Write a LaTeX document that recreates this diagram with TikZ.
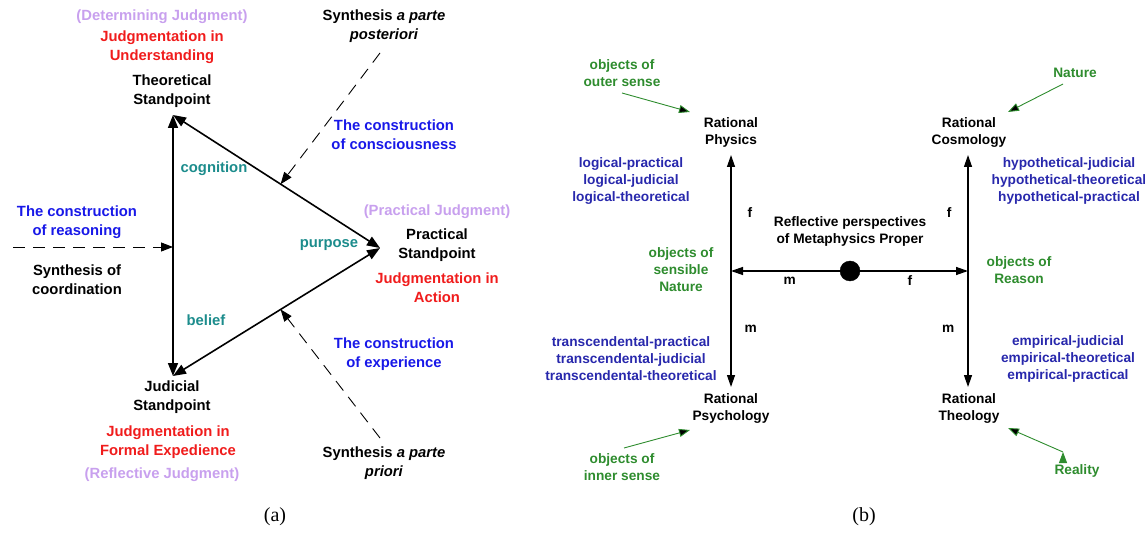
\documentclass[tikz,border=0pt]{standalone}
\usepackage{fontspec}
\setmainfont{Liberation Sans}
\newfontfamily\capfont{Liberation Serif}
\usepackage{tikz}
\usetikzlibrary{arrows.meta,calc}
\definecolor{judgeviolet}{RGB}{200,160,238}
\definecolor{mentred}{RGB}{240,28,28}
\definecolor{constblue}{RGB}{24,24,232}
\definecolor{relteal}{RGB}{28,140,140}
\definecolor{objgreen}{RGB}{46,140,46}
\definecolor{formblue}{RGB}{40,40,172}
\tikzset{
    stand/.style={
    align=center,inner sep=0pt,font=\fontsize{14.8}{19}\selectfont\bfseries
    },
    judge/.style={
    stand,text=judgeviolet
    },
    ment/.style={
    stand,text=mentred
    },
    constr/.style={
    stand,text=constblue
    },
    relation/.style={
    stand,text=relteal
    },
    meta/.style={
    align=center,inner sep=0pt,font=\fontsize{13.7}{17}\selectfont\bfseries
    },
    objects/.style={
    meta,text=objgreen
    },
    forms/.style={
    meta,text=formblue
    },
    lab/.style={
    meta
    },
    hub/.style={
    circle,draw=black,fill=black,minimum size=20pt,inner sep=0pt
    },
    sideline/.style={
    line width=1.6pt,>={Triangle[length=13pt,width=10pt]},<->
    },
    synth/.style={
    line width=0.9pt,dash pattern=on 12pt off 8pt,>={Triangle[length=12pt,width=9pt]},->
    },
    metaline/.style={
    line width=1.3pt,>={Triangle[length=12pt,width=8pt]},->
    },
    pointer/.style={
    draw=objgreen,line width=0.9pt,>={Triangle[length=11pt,width=8pt]},->
    },
    capt/.style={
    inner sep=0pt,font=\capfont\fontsize{20}{24}\selectfont
    },
}

\begin{document}
\begin{tikzpicture}[x=1pt, y=-1pt]
   \useasboundingbox (0,0) rectangle (1145,534);

   %(a) standpoints
   \coordinate (tvx) at (173,115);
   \coordinate (jvx) at (173,376);
   \coordinate (pvx) at (380,248);
   \node[judge] (detj) at (162,17) {(Determining Judgment)};
   \node[ment] (undj) at (162,47) {Judgmentation in\\Understanding};
   \node[stand] (theo) at (172,91) {Theoretical\\Standpoint};
   \node[judge] (pracj) at (437,212) {(Practical Judgment)};
   \node[stand] (prac) at (437,245) {Practical\\Standpoint};
   \node[ment] (actj) at (437,288) {Judgmentation in\\Action};
   \node[stand] (jud) at (172,397) {Judicial\\Standpoint};
   \node[ment] (formj) at (168,442) {Judgmentation in\\Formal Expedience};
   \node[judge] (refj) at (162,475) {(Reflective Judgment)};

   %(a) relations
   \node[relation] (cog) at (214,169) {cognition};
   \node[relation] (pur) at (329,245) {purpose};
   \node[relation] (bel) at (206,320) {belief};

   %(a) syntheses
   \node[stand] (synpost) at (384,26) {Synthesis \textit{a parte}\\\textit{posteriori}};
   \node[constr] (conscon) at (394,135) {The construction\\of consciousness};
   \node[constr] (reascon) at (77,222) {The construction\\of reasoning};
   \node[stand] (coord) at (77,280) {Synthesis of\\coordination};
   \node[constr] (expcon) at (394,354) {The construction\\of experience};
   \node[stand] (synpri) at (384,463) {Synthesis \textit{a parte}\\\textit{priori}};
   \coordinate (postfoot) at (380,53);
   \coordinate (prifoot) at (380,438);
   \coordinate (coordfoot) at (13,247);
   \coordinate (tpmid) at ($(tvx)!0.52!(pvx)$);
   \coordinate (jpmid) at ($(jvx)!0.52!(pvx)$);
   \coordinate (tjmid) at (173,247);

   \node[capt] (capa) at (275,517) {(a)};

   \path[sideline]
    (tvx) edge (jvx)
          edge (pvx)
    (jvx) edge (pvx);

   \path[synth]
    (postfoot) edge (tpmid)
    (prifoot) edge (jpmid)
    (coordfoot) edge (tjmid);

   %(b) metaphysics proper
   \coordinate (lmid) at (731,271);
   \coordinate (ltop) at (731,155);
   \coordinate (lbot) at (731,387);
   \coordinate (rmid) at (968,271);
   \coordinate (rtop) at (968,155);
   \coordinate (rbot) at (968,387);
   \node[hub] (hub) at (850,271) {};
   \node[meta] (rpr) at (850,231) {Reflective perspectives\\of Metaphysics Proper};

   \node[meta] (phys) at (731,132) {Rational\\Physics};
   \node[meta] (cosm) at (969,132) {Rational\\Cosmology};
   \node[meta] (psy) at (731,408) {Rational\\Psychology};
   \node[meta] (theol) at (969,408) {Rational\\Theology};

   %(b) forms
   \node[forms] (logi) at (631,181) {logical-practical\\logical-judicial\\logical-theoretical};
   \node[forms] (hypo) at (1069,181) {hypothetical-judicial\\hypothetical-theoretical\\hypothetical-practical};
   \node[forms] (trans) at (631,359) {transcendental-practical\\transcendental-judicial\\transcendental-theoretical};
   \node[forms] (emp) at (1068,359) {empirical-judicial\\empirical-theoretical\\empirical-practical};

   %(b) objects
   \node[objects] (outs) at (622,73) {objects of\\outer sense};
   \node[objects] (natr) at (1075,73) {Nature};
   \node[objects] (sens) at (681,270) {objects of\\sensible\\Nature};
   \node[objects] (reas) at (1019,270) {objects of\\Reason};
   \node[objects] (inns) at (622,467) {objects of\\inner sense};
   \node[objects] (real) at (1077,471) {Reality};
   \coordinate (outsfoot) at (622,93);
   \coordinate (physnose) at (690,112);
   \coordinate (natrfoot) at (1063,84);
   \coordinate (cosmnose) at (1008,112);
   \coordinate (innsfoot) at (624,448);
   \coordinate (psynose) at (690,430);
   \coordinate (realfoot) at (1063,452);
   \coordinate (theolnose) at (1008,428);

   \node[capt] (capb) at (864,517) {(b)};

   \path[metaline]
    (lmid) edge node[lab, right=16pt] {f} (ltop)
           edge node[lab, right=13pt] {m} (lbot)
    (rmid) edge node[lab, left=16pt] {f} (rtop)
           edge node[lab, left=13pt] {m} (rbot)
    (hub) edge node[lab, pos=0.46, below=5pt] {m} (lmid)
          edge node[lab, pos=0.46, below=4pt] {f} (rmid);

   \path[pointer]
    (outsfoot) edge (physnose)
    (natrfoot) edge (cosmnose)
    (innsfoot) edge (psynose)
    (realfoot) edge (theolnose);
\end{tikzpicture}
\end{document}
